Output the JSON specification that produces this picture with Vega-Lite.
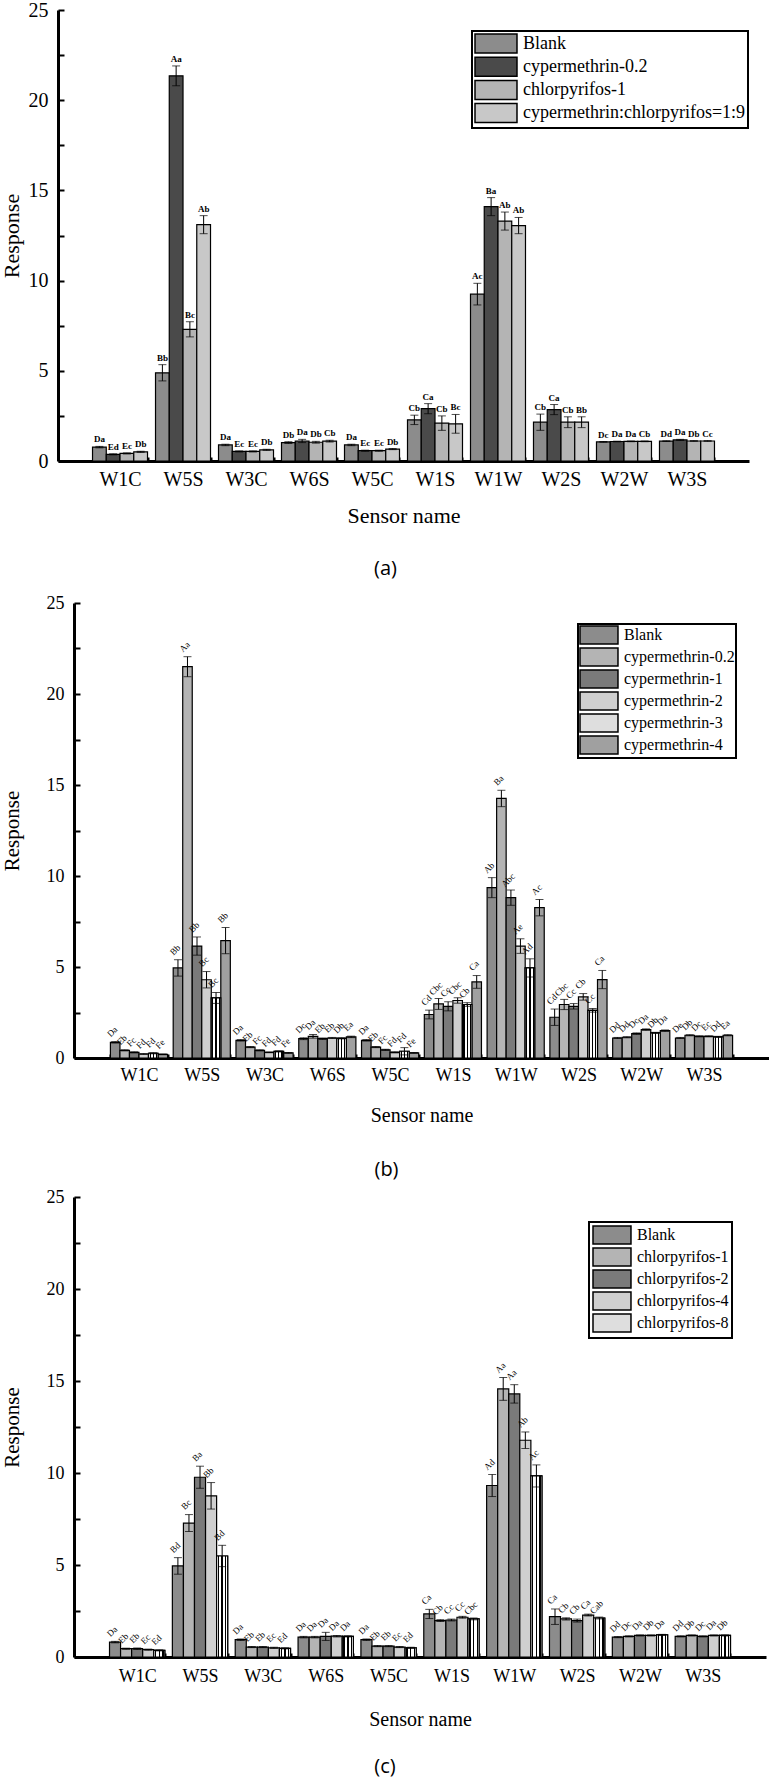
{
  "$schema": "https://vega.github.io/schema/vega-lite/v6.json",
  "background": "white",
  "padding": {"left": 0, "top": 0, "right": 0, "bottom": 0},
  "datasets": {
    "a": [
      {"s": "W1C", "g": "Blank", "v": 0.77, "e": 0.04, "l": "Da"},
      {"s": "W1C", "g": "cypermethrin-0.2", "v": 0.37, "e": 0.03, "l": "Ed"},
      {"s": "W1C", "g": "chlorpyrifos-1", "v": 0.42, "e": 0.03, "l": "Ec"},
      {"s": "W1C", "g": "cypermethrin:chlorpyrifos=1:9", "v": 0.51, "e": 0.03, "l": "Db"},
      {"s": "W5S", "g": "Blank", "v": 4.89, "e": 0.45, "l": "Bb"},
      {"s": "W5S", "g": "cypermethrin-0.2", "v": 21.35, "e": 0.55, "l": "Aa"},
      {"s": "W5S", "g": "chlorpyrifos-1", "v": 7.3, "e": 0.42, "l": "Bc"},
      {"s": "W5S", "g": "cypermethrin:chlorpyrifos=1:9", "v": 13.1, "e": 0.5, "l": "Ab"},
      {"s": "W3C", "g": "Blank", "v": 0.89, "e": 0.04, "l": "Da"},
      {"s": "W3C", "g": "cypermethrin-0.2", "v": 0.53, "e": 0.03, "l": "Ec"},
      {"s": "W3C", "g": "chlorpyrifos-1", "v": 0.53, "e": 0.03, "l": "Ec"},
      {"s": "W3C", "g": "cypermethrin:chlorpyrifos=1:9", "v": 0.62, "e": 0.03, "l": "Db"},
      {"s": "W6S", "g": "Blank", "v": 1.02, "e": 0.05, "l": "Db"},
      {"s": "W6S", "g": "cypermethrin-0.2", "v": 1.11, "e": 0.09, "l": "Da"},
      {"s": "W6S", "g": "chlorpyrifos-1", "v": 1.04, "e": 0.05, "l": "Db"},
      {"s": "W6S", "g": "cypermethrin:chlorpyrifos=1:9", "v": 1.1, "e": 0.05, "l": "Cb"},
      {"s": "W5C", "g": "Blank", "v": 0.89, "e": 0.04, "l": "Da"},
      {"s": "W5C", "g": "cypermethrin-0.2", "v": 0.57, "e": 0.03, "l": "Ec"},
      {"s": "W5C", "g": "chlorpyrifos-1", "v": 0.57, "e": 0.03, "l": "Ec"},
      {"s": "W5C", "g": "cypermethrin:chlorpyrifos=1:9", "v": 0.66, "e": 0.03, "l": "Db"},
      {"s": "W1S", "g": "Blank", "v": 2.28, "e": 0.26, "l": "Cb"},
      {"s": "W1S", "g": "cypermethrin-0.2", "v": 2.9, "e": 0.28, "l": "Ca"},
      {"s": "W1S", "g": "chlorpyrifos-1", "v": 2.1, "e": 0.4, "l": "Cb"},
      {"s": "W1S", "g": "cypermethrin:chlorpyrifos=1:9", "v": 2.06, "e": 0.52, "l": "Bc"},
      {"s": "W1W", "g": "Blank", "v": 9.25, "e": 0.6, "l": "Ac"},
      {"s": "W1W", "g": "cypermethrin-0.2", "v": 14.1, "e": 0.5, "l": "Ba"},
      {"s": "W1W", "g": "chlorpyrifos-1", "v": 13.3, "e": 0.5, "l": "Ab"},
      {"s": "W1W", "g": "cypermethrin:chlorpyrifos=1:9", "v": 13.05, "e": 0.45, "l": "Ab"},
      {"s": "W2S", "g": "Blank", "v": 2.15, "e": 0.45, "l": "Cb"},
      {"s": "W2S", "g": "cypermethrin-0.2", "v": 2.85, "e": 0.28, "l": "Ca"},
      {"s": "W2S", "g": "chlorpyrifos-1", "v": 2.15, "e": 0.3, "l": "Cb"},
      {"s": "W2S", "g": "cypermethrin:chlorpyrifos=1:9", "v": 2.15, "e": 0.3, "l": "Bb"},
      {"s": "W2W", "g": "Blank", "v": 1.06, "e": 0.02, "l": "Dc"},
      {"s": "W2W", "g": "cypermethrin-0.2", "v": 1.08, "e": 0.02, "l": "Da"},
      {"s": "W2W", "g": "chlorpyrifos-1", "v": 1.09, "e": 0.02, "l": "Da"},
      {"s": "W2W", "g": "cypermethrin:chlorpyrifos=1:9", "v": 1.09, "e": 0.02, "l": "Cb"},
      {"s": "W3S", "g": "Blank", "v": 1.1, "e": 0.02, "l": "Dd"},
      {"s": "W3S", "g": "cypermethrin-0.2", "v": 1.17, "e": 0.03, "l": "Da"},
      {"s": "W3S", "g": "chlorpyrifos-1", "v": 1.11, "e": 0.02, "l": "Db"},
      {"s": "W3S", "g": "cypermethrin:chlorpyrifos=1:9", "v": 1.11, "e": 0.02, "l": "Cc"}
    ],
    "b": [
      {"s": "W1C", "g": "Blank", "v": 0.86, "e": 0.04, "l": "Da"},
      {"s": "W1C", "g": "cypermethrin-0.2", "v": 0.42, "e": 0.03, "l": "Eb"},
      {"s": "W1C", "g": "cypermethrin-1", "v": 0.31, "e": 0.03, "l": "Fc"},
      {"s": "W1C", "g": "cypermethrin-2", "v": 0.22, "e": 0.02, "l": "Fd"},
      {"s": "W1C", "g": "cypermethrin-3", "v": 0.26, "e": 0.03, "l": "Fd"},
      {"s": "W1C", "g": "cypermethrin-4", "v": 0.2, "e": 0.02, "l": "Fe"},
      {"s": "W5S", "g": "Blank", "v": 4.95, "e": 0.45, "l": "Bb"},
      {"s": "W5S", "g": "cypermethrin-0.2", "v": 21.5, "e": 0.55, "l": "Aa"},
      {"s": "W5S", "g": "cypermethrin-1", "v": 6.15, "e": 0.5, "l": "Bb"},
      {"s": "W5S", "g": "cypermethrin-2", "v": 4.3, "e": 0.45, "l": "Bc"},
      {"s": "W5S", "g": "cypermethrin-3", "v": 3.3, "e": 0.3, "l": "Bc"},
      {"s": "W5S", "g": "cypermethrin-4", "v": 6.45, "e": 0.72, "l": "Bb"},
      {"s": "W3C", "g": "Blank", "v": 0.97, "e": 0.04, "l": "Da"},
      {"s": "W3C", "g": "cypermethrin-0.2", "v": 0.6, "e": 0.03, "l": "Eb"},
      {"s": "W3C", "g": "cypermethrin-1", "v": 0.42, "e": 0.03, "l": "Fc"},
      {"s": "W3C", "g": "cypermethrin-2", "v": 0.31, "e": 0.02, "l": "Fd"},
      {"s": "W3C", "g": "cypermethrin-3", "v": 0.36, "e": 0.03, "l": "Fd"},
      {"s": "W3C", "g": "cypermethrin-4", "v": 0.28, "e": 0.02, "l": "Fe"},
      {"s": "W6S", "g": "Blank", "v": 1.06, "e": 0.05, "l": "Dc"},
      {"s": "W6S", "g": "cypermethrin-0.2", "v": 1.19, "e": 0.1, "l": "Da"},
      {"s": "W6S", "g": "cypermethrin-1", "v": 1.06, "e": 0.04, "l": "Eb"},
      {"s": "W6S", "g": "cypermethrin-2", "v": 1.1, "e": 0.03, "l": "Eb"},
      {"s": "W6S", "g": "cypermethrin-3", "v": 1.08, "e": 0.03, "l": "Db"},
      {"s": "W6S", "g": "cypermethrin-4", "v": 1.16, "e": 0.04, "l": "Ea"},
      {"s": "W5C", "g": "Blank", "v": 0.97, "e": 0.04, "l": "Da"},
      {"s": "W5C", "g": "cypermethrin-0.2", "v": 0.6, "e": 0.03, "l": "Eb"},
      {"s": "W5C", "g": "cypermethrin-1", "v": 0.45, "e": 0.03, "l": "Fc"},
      {"s": "W5C", "g": "cypermethrin-2", "v": 0.31, "e": 0.03, "l": "Fd"},
      {"s": "W5C", "g": "cypermethrin-3", "v": 0.37, "e": 0.2, "l": "Fd"},
      {"s": "W5C", "g": "cypermethrin-4", "v": 0.28, "e": 0.02, "l": "Fe"},
      {"s": "W1S", "g": "Blank", "v": 2.39, "e": 0.24, "l": "Cd"},
      {"s": "W1S", "g": "cypermethrin-0.2", "v": 2.97, "e": 0.3, "l": "Cbc"},
      {"s": "W1S", "g": "cypermethrin-1", "v": 2.84, "e": 0.25, "l": "Cc"},
      {"s": "W1S", "g": "cypermethrin-2", "v": 3.16, "e": 0.15, "l": "Cbc"},
      {"s": "W1S", "g": "cypermethrin-3", "v": 2.94, "e": 0.1, "l": "Cb"},
      {"s": "W1S", "g": "cypermethrin-4", "v": 4.18, "e": 0.35, "l": "Ca"},
      {"s": "W1W", "g": "Blank", "v": 9.36, "e": 0.55, "l": "Ab"},
      {"s": "W1W", "g": "cypermethrin-0.2", "v": 14.26, "e": 0.45, "l": "Ba"},
      {"s": "W1W", "g": "cypermethrin-1", "v": 8.81, "e": 0.42, "l": "Abc"},
      {"s": "W1W", "g": "cypermethrin-2", "v": 6.15, "e": 0.4, "l": "Ae"},
      {"s": "W1W", "g": "cypermethrin-3", "v": 4.95, "e": 0.5, "l": "Ad"},
      {"s": "W1W", "g": "cypermethrin-4", "v": 8.26, "e": 0.45, "l": "Ac"},
      {"s": "W2S", "g": "Blank", "v": 2.24, "e": 0.45, "l": "Cd"},
      {"s": "W2S", "g": "cypermethrin-0.2", "v": 2.94, "e": 0.28, "l": "Cbc"},
      {"s": "W2S", "g": "cypermethrin-1", "v": 2.84, "e": 0.15, "l": "Cc"},
      {"s": "W2S", "g": "cypermethrin-2", "v": 3.36, "e": 0.18, "l": "Cb"},
      {"s": "W2S", "g": "cypermethrin-3", "v": 2.62, "e": 0.1, "l": "Cc"},
      {"s": "W2S", "g": "cypermethrin-4", "v": 4.31, "e": 0.5, "l": "Ca"},
      {"s": "W2W", "g": "Blank", "v": 1.1, "e": 0.03, "l": "Dd"},
      {"s": "W2W", "g": "cypermethrin-0.2", "v": 1.14, "e": 0.03, "l": "Dd"},
      {"s": "W2W", "g": "cypermethrin-1", "v": 1.34, "e": 0.04, "l": "Dc"},
      {"s": "W2W", "g": "cypermethrin-2", "v": 1.56, "e": 0.04, "l": "Da"},
      {"s": "W2W", "g": "cypermethrin-3", "v": 1.38, "e": 0.03, "l": "Db"},
      {"s": "W2W", "g": "cypermethrin-4", "v": 1.5, "e": 0.04, "l": "Da"},
      {"s": "W3S", "g": "Blank", "v": 1.1, "e": 0.03, "l": "De"},
      {"s": "W3S", "g": "cypermethrin-0.2", "v": 1.25, "e": 0.03, "l": "Db"},
      {"s": "W3S", "g": "cypermethrin-1", "v": 1.19, "e": 0.03, "l": "Dc"},
      {"s": "W3S", "g": "cypermethrin-2", "v": 1.19, "e": 0.03, "l": "Ec"},
      {"s": "W3S", "g": "cypermethrin-3", "v": 1.16, "e": 0.03, "l": "Dd"},
      {"s": "W3S", "g": "cypermethrin-4", "v": 1.25, "e": 0.03, "l": "Ea"}
    ],
    "c": [
      {"s": "W1C", "g": "Blank", "v": 0.81, "e": 0.04, "l": "Da"},
      {"s": "W1C", "g": "chlorpyrifos-1", "v": 0.45, "e": 0.03, "l": "Eb"},
      {"s": "W1C", "g": "chlorpyrifos-2", "v": 0.45, "e": 0.04, "l": "Eb"},
      {"s": "W1C", "g": "chlorpyrifos-4", "v": 0.4, "e": 0.03, "l": "Ec"},
      {"s": "W1C", "g": "chlorpyrifos-8", "v": 0.36, "e": 0.03, "l": "Ed"},
      {"s": "W5S", "g": "Blank", "v": 4.95, "e": 0.45, "l": "Bd"},
      {"s": "W5S", "g": "chlorpyrifos-1", "v": 7.28, "e": 0.46, "l": "Bc"},
      {"s": "W5S", "g": "chlorpyrifos-2", "v": 9.77, "e": 0.6, "l": "Ba"},
      {"s": "W5S", "g": "chlorpyrifos-4", "v": 8.76, "e": 0.72, "l": "Bb"},
      {"s": "W5S", "g": "chlorpyrifos-8", "v": 5.49, "e": 0.58, "l": "Bd"},
      {"s": "W3C", "g": "Blank", "v": 0.94, "e": 0.04, "l": "Da"},
      {"s": "W3C", "g": "chlorpyrifos-1", "v": 0.54, "e": 0.03, "l": "Eb"},
      {"s": "W3C", "g": "chlorpyrifos-2", "v": 0.54, "e": 0.03, "l": "Eb"},
      {"s": "W3C", "g": "chlorpyrifos-4", "v": 0.5, "e": 0.03, "l": "Ec"},
      {"s": "W3C", "g": "chlorpyrifos-8", "v": 0.47, "e": 0.03, "l": "Ed"},
      {"s": "W6S", "g": "Blank", "v": 1.08, "e": 0.04, "l": "Da"},
      {"s": "W6S", "g": "chlorpyrifos-1", "v": 1.08, "e": 0.04, "l": "Da"},
      {"s": "W6S", "g": "chlorpyrifos-2", "v": 1.12, "e": 0.22, "l": "Da"},
      {"s": "W6S", "g": "chlorpyrifos-4", "v": 1.13, "e": 0.04, "l": "Da"},
      {"s": "W6S", "g": "chlorpyrifos-8", "v": 1.12, "e": 0.03, "l": "Da"},
      {"s": "W5C", "g": "Blank", "v": 0.94, "e": 0.04, "l": "Da"},
      {"s": "W5C", "g": "chlorpyrifos-1", "v": 0.59, "e": 0.03, "l": "Eb"},
      {"s": "W5C", "g": "chlorpyrifos-2", "v": 0.59, "e": 0.03, "l": "Eb"},
      {"s": "W5C", "g": "chlorpyrifos-4", "v": 0.54, "e": 0.03, "l": "Ec"},
      {"s": "W5C", "g": "chlorpyrifos-8", "v": 0.5, "e": 0.03, "l": "Ed"},
      {"s": "W1S", "g": "Blank", "v": 2.34, "e": 0.25, "l": "Ca"},
      {"s": "W1S", "g": "chlorpyrifos-1", "v": 1.98, "e": 0.05, "l": "Cb"},
      {"s": "W1S", "g": "chlorpyrifos-2", "v": 2.01, "e": 0.05, "l": "Cc"},
      {"s": "W1S", "g": "chlorpyrifos-4", "v": 2.16, "e": 0.05, "l": "Cc"},
      {"s": "W1S", "g": "chlorpyrifos-8", "v": 2.07, "e": 0.05, "l": "Cbc"},
      {"s": "W1W", "g": "Blank", "v": 9.32, "e": 0.6, "l": "Ad"},
      {"s": "W1W", "g": "chlorpyrifos-1", "v": 14.57, "e": 0.62, "l": "Aa"},
      {"s": "W1W", "g": "chlorpyrifos-2", "v": 14.3, "e": 0.5, "l": "Aa"},
      {"s": "W1W", "g": "chlorpyrifos-4", "v": 11.78, "e": 0.45, "l": "Ab"},
      {"s": "W1W", "g": "chlorpyrifos-8", "v": 9.84, "e": 0.6, "l": "Ac"},
      {"s": "W2S", "g": "Blank", "v": 2.19, "e": 0.42, "l": "Ca"},
      {"s": "W2S", "g": "chlorpyrifos-1", "v": 2.07, "e": 0.06, "l": "Cb"},
      {"s": "W2S", "g": "chlorpyrifos-2", "v": 1.98, "e": 0.08, "l": "Cb"},
      {"s": "W2S", "g": "chlorpyrifos-4", "v": 2.28, "e": 0.05, "l": "Ca"},
      {"s": "W2S", "g": "chlorpyrifos-8", "v": 2.12, "e": 0.05, "l": "Cab"},
      {"s": "W2W", "g": "Blank", "v": 1.08, "e": 0.03, "l": "Dd"},
      {"s": "W2W", "g": "chlorpyrifos-1", "v": 1.12, "e": 0.03, "l": "Dc"},
      {"s": "W2W", "g": "chlorpyrifos-2", "v": 1.17, "e": 0.03, "l": "Da"},
      {"s": "W2W", "g": "chlorpyrifos-4", "v": 1.17, "e": 0.03, "l": "Db"},
      {"s": "W2W", "g": "chlorpyrifos-8", "v": 1.2, "e": 0.03, "l": "Da"},
      {"s": "W3S", "g": "Blank", "v": 1.12, "e": 0.03, "l": "Dd"},
      {"s": "W3S", "g": "chlorpyrifos-1", "v": 1.17, "e": 0.03, "l": "Db"},
      {"s": "W3S", "g": "chlorpyrifos-2", "v": 1.12, "e": 0.03, "l": "Dc"},
      {"s": "W3S", "g": "chlorpyrifos-4", "v": 1.17, "e": 0.03, "l": "Da"},
      {"s": "W3S", "g": "chlorpyrifos-8", "v": 1.17, "e": 0.03, "l": "Db"}
    ]
  },
  "vconcat": [
    {
      "data": {"name": "a"},
      "width": 691,
      "height": 451,
      "title": {"text": "(a)", "orient": "bottom", "frame": "group", "anchor": "middle", "font": "Open Sans", "fontSize": 20, "fontWeight": "normal", "dx": -34, "offset": 33},
      "transform": [
        {"calculate": "datum.v + datum.e", "as": "hi"},
        {"calculate": "datum.v - datum.e", "as": "lo"}
      ],
      "encoding": {
        "x": {"field": "s", "type": "nominal", "sort": null, "title": "Sensor name",
          "scale": {"paddingInner": 0.127, "paddingOuter": 0.548, "range": [-16, 675]},
          "axis": {"labelAngle": 0, "labelFontSize": 20, "titleFontSize": 22, "tickBand": "extent", "tickSize": -4, "labelPadding": 12, "titlePadding": 16}},
        "xOffset": {"field": "g", "type": "nominal", "sort": null, "scale": {"paddingInner": 0, "paddingOuter": 0}}
      },
      "layer": [
        {
          "mark": {"type": "bar", "stroke": "black", "strokeWidth": 1.2},
          "encoding": {
            "y": {"field": "v", "type": "quantitative", "scale": {"domain": [0, 25], "nice": false},
              "axis": {"title": "Response", "offset": 16, "values": [0, 2.5, 5, 7.5, 10, 12.5, 15, 17.5, 20, 22.5, 25], "labelExpr": "datum.value % 5 == 0 ? datum.label : ''", "labelFontSize": 20, "titleFontSize": 22, "tickSize": -6, "labelPadding": 16, "titlePadding": 5}},
            "fill": {"field": "g", "type": "nominal",
              "scale": {"domain": ["Blank", "cypermethrin-0.2", "chlorpyrifos-1", "cypermethrin:chlorpyrifos=1:9"], "range": ["#8c8c8c", "#4a4a4a", "#b4b4b4", "#c8c8c8"]},
              "legend": {"title": null, "orient": "none", "legendX": 398, "legendY": 21, "labelFontSize": 18, "symbolType": "M-1,-1H3.42V1H-1Z", "symbolSize": 361, "labelOffset": 28, "rowPadding": -1.8, "padding": 2}}
          }
        },
        {
          "mark": {"type": "rule", "color": "black", "strokeWidth": 1},
          "encoding": {"y": {"field": "lo", "type": "quantitative"}, "y2": {"field": "hi"}}
        },
        {
          "mark": {"type": "tick", "color": "black", "size": 8, "thickness": 1},
          "encoding": {"y": {"field": "hi", "type": "quantitative"}}
        },
        {
          "mark": {"type": "tick", "color": "black", "size": 8, "thickness": 1},
          "encoding": {"y": {"field": "lo", "type": "quantitative"}}
        },
        {
          "mark": {"type": "text", "font": "Liberation Serif", "fontSize": 9, "fontWeight": "bold", "baseline": "bottom", "dy": -2},
          "encoding": {"y": {"field": "hi", "type": "quantitative"}, "text": {"field": "l"}}
        }
      ]
    },
    {
      "vconcat": [
        {
          "data": {"name": "b"},
          "width": 695,
          "height": 455,
          "title": {"text": "(b)", "orient": "bottom", "frame": "group", "anchor": "middle", "font": "Open Sans", "fontSize": 20, "fontWeight": "normal", "dx": -35, "offset": 35},
          "transform": [
            {"calculate": "datum.v + datum.e", "as": "hi"},
            {"calculate": "datum.v - datum.e", "as": "lo"}
          ],
          "encoding": {
            "x": {"field": "s", "type": "nominal", "sort": null, "title": "Sensor name",
              "scale": {"paddingInner": 0.09, "paddingOuter": 0.58},
              "axis": {"labelAngle": 0, "labelFontSize": 18, "titleFontSize": 20, "tickBand": "extent", "tickSize": -4, "labelPadding": 12, "titlePadding": 21}},
            "xOffset": {"field": "g", "type": "nominal", "sort": null, "scale": {"paddingInner": 0, "paddingOuter": 0}}
          },
          "layer": [
            {
              "mark": {"type": "bar", "stroke": "black", "strokeWidth": 1.2},
              "encoding": {
                "y": {"field": "v", "type": "quantitative", "scale": {"domain": [0, 25], "nice": false},
                  "axis": {"title": "Response", "values": [0, 2.5, 5, 7.5, 10, 12.5, 15, 17.5, 20, 22.5, 25], "labelExpr": "datum.value % 5 == 0 ? datum.label : ''", "labelFontSize": 18, "titleFontSize": 21, "tickSize": -6, "labelPadding": 16, "titlePadding": 24}},
                "fill": {"field": "g", "type": "nominal",
                  "scale": {"domain": ["Blank", "cypermethrin-0.2", "cypermethrin-1", "cypermethrin-2", "cypermethrin-3", "cypermethrin-4"], "range": ["#8c8c8c", "#b4b4b4", "#7a7a7a", "#cfcfcf", "#dedede", "#a0a0a0"]},
                  "legend": {"title": null, "orient": "none", "legendX": 504, "legendY": 21, "labelFontSize": 16, "symbolType": "M-1,-1H3.22V1H-1Z", "symbolSize": 324, "labelOffset": 25, "rowPadding": -3.4, "padding": 1}}
              }
            },
            {
              "transform": [{"filter": "datum.g == 'cypermethrin-3'"}],
              "mark": {"type": "bar", "stroke": "black", "strokeWidth": 1.2,
                "fill": {"gradient": "linear", "x1": 0, "y1": 0, "x2": 1, "y2": 0, "stops": [
                  {"offset": 0, "color": "white"}, {"offset": 0.107, "color": "white"}, {"offset": 0.107, "color": "black"}, {"offset": 0.227, "color": "black"}, {"offset": 0.227, "color": "white"},
                  {"offset": 0.44, "color": "white"}, {"offset": 0.44, "color": "black"}, {"offset": 0.56, "color": "black"}, {"offset": 0.56, "color": "white"},
                  {"offset": 0.773, "color": "white"}, {"offset": 0.773, "color": "black"}, {"offset": 0.893, "color": "black"}, {"offset": 0.893, "color": "white"}, {"offset": 1, "color": "white"}]}},
              "encoding": {"y": {"field": "v", "type": "quantitative"}}
            },
            {
              "mark": {"type": "rule", "color": "black", "strokeWidth": 1},
              "encoding": {"y": {"field": "lo", "type": "quantitative"}, "y2": {"field": "hi"}}
            },
            {
              "mark": {"type": "tick", "color": "black", "size": 8, "thickness": 1},
              "encoding": {"y": {"field": "hi", "type": "quantitative"}}
            },
            {
              "mark": {"type": "tick", "color": "black", "size": 8, "thickness": 1},
              "encoding": {"y": {"field": "lo", "type": "quantitative"}}
            },
            {
              "mark": {"type": "text", "font": "Liberation Serif", "fontSize": 9, "angle": 315, "align": "center", "baseline": "middle", "dx": 5, "dy": -9},
              "encoding": {"y": {"field": "hi", "type": "quantitative"}, "text": {"field": "l"}}
            }
          ]
        },
        {
          "data": {"name": "c"},
          "width": 692,
          "height": 460,
          "title": {"text": "(c)", "orient": "bottom", "frame": "group", "anchor": "middle", "font": "Open Sans", "fontSize": 20, "fontWeight": "normal", "dx": -35, "offset": 28},
          "transform": [
            {"calculate": "datum.v + datum.e", "as": "hi"},
            {"calculate": "datum.v - datum.e", "as": "lo"}
          ],
          "encoding": {
            "x": {"field": "s", "type": "nominal", "sort": null, "title": "Sensor name",
              "scale": {"paddingInner": 0.12, "paddingOuter": 0.565},
              "axis": {"labelAngle": 0, "labelFontSize": 18, "titleFontSize": 20, "tickBand": "extent", "tickSize": -4, "labelPadding": 14, "titlePadding": 24}},
            "xOffset": {"field": "g", "type": "nominal", "sort": null, "scale": {"paddingInner": 0, "paddingOuter": 0}}
          },
          "layer": [
            {
              "mark": {"type": "bar", "stroke": "black", "strokeWidth": 1.2},
              "encoding": {
                "y": {"field": "v", "type": "quantitative", "scale": {"domain": [0, 25], "nice": false},
                  "axis": {"title": "Response", "values": [0, 2.5, 5, 7.5, 10, 12.5, 15, 17.5, 20, 22.5, 25], "labelExpr": "datum.value % 5 == 0 ? datum.label : ''", "labelFontSize": 18, "titleFontSize": 21, "tickSize": -6, "labelPadding": 16, "titlePadding": 24}},
                "fill": {"field": "g", "type": "nominal",
                  "scale": {"domain": ["Blank", "chlorpyrifos-1", "chlorpyrifos-2", "chlorpyrifos-4", "chlorpyrifos-8"], "range": ["#8c8c8c", "#b4b4b4", "#7a7a7a", "#cfcfcf", "#dedede"]},
                  "legend": {"title": null, "orient": "none", "legendX": 515, "legendY": 25, "labelFontSize": 16, "symbolType": "M-1,-1H3.22V1H-1Z", "symbolSize": 324, "labelOffset": 25, "rowPadding": -2}}
              }
            },
            {
              "transform": [{"filter": "datum.g == 'chlorpyrifos-8'"}],
              "mark": {"type": "bar", "stroke": "black", "strokeWidth": 1.2,
                "fill": {"gradient": "linear", "x1": 0, "y1": 0, "x2": 1, "y2": 0, "stops": [
                  {"offset": 0, "color": "white"}, {"offset": 0.107, "color": "white"}, {"offset": 0.107, "color": "black"}, {"offset": 0.227, "color": "black"}, {"offset": 0.227, "color": "white"},
                  {"offset": 0.44, "color": "white"}, {"offset": 0.44, "color": "black"}, {"offset": 0.56, "color": "black"}, {"offset": 0.56, "color": "white"},
                  {"offset": 0.773, "color": "white"}, {"offset": 0.773, "color": "black"}, {"offset": 0.893, "color": "black"}, {"offset": 0.893, "color": "white"}, {"offset": 1, "color": "white"}]}},
              "encoding": {"y": {"field": "v", "type": "quantitative"}}
            },
            {
              "mark": {"type": "rule", "color": "black", "strokeWidth": 1},
              "encoding": {"y": {"field": "lo", "type": "quantitative"}, "y2": {"field": "hi"}}
            },
            {
              "mark": {"type": "tick", "color": "black", "size": 8, "thickness": 1},
              "encoding": {"y": {"field": "hi", "type": "quantitative"}}
            },
            {
              "mark": {"type": "tick", "color": "black", "size": 8, "thickness": 1},
              "encoding": {"y": {"field": "lo", "type": "quantitative"}}
            },
            {
              "mark": {"type": "text", "font": "Liberation Serif", "fontSize": 9, "angle": 315, "align": "center", "baseline": "middle", "dx": 5, "dy": -9},
              "encoding": {"y": {"field": "hi", "type": "quantitative"}, "text": {"field": "l"}}
            }
          ]
        }
      ],
      "spacing": 8,
      "resolve": {
        "scale": {"x": "independent", "y": "independent", "xOffset": "independent", "fill": "independent"},
        "axis": {"x": "independent", "y": "independent"},
        "legend": {"fill": "independent"}
      }
    }
  ],
  "spacing": 15,
  "resolve": {
    "scale": {"x": "independent", "y": "independent", "xOffset": "independent", "fill": "independent"},
    "axis": {"x": "independent", "y": "independent"},
    "legend": {"fill": "independent"}
  },
  "config": {
    "view": {"stroke": null},
    "font": "Liberation Serif",
    "axis": {"domainColor": "black", "domainWidth": 3, "tickColor": "black", "tickWidth": 2, "labelColor": "black", "titleColor": "black", "labelFont": "Liberation Serif", "titleFont": "Liberation Serif", "titleFontWeight": "normal", "grid": false},
    "legend": {"strokeColor": "black", "strokeWidth": 2, "padding": 3, "labelFont": "Liberation Serif", "labelColor": "black", "labelLimit": 400, "symbolStrokeColor": "black", "symbolStrokeWidth": 1.5, "symbolOpacity": 1, "fillColor": "white"}
  }
}
